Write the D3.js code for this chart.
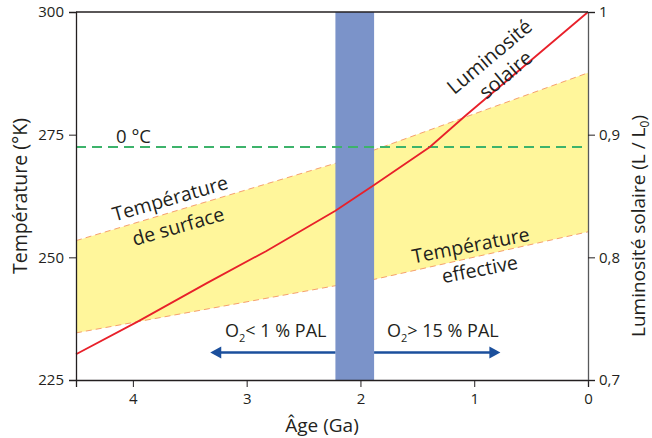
<!DOCTYPE html>
<html>
<head>
<meta charset="utf-8">
<script src="https://cdn.jsdelivr.net/npm/d3@7"></script>
<style>
  body { margin: 0; background: #fff; }
  svg text { font-family: "Open Sans", sans-serif; fill: #231f20; }
</style>
</head>
<body>
<svg id="chart" width="652" height="438"></svg>
<script>
// data
const ageTicks = [4, 3, 2, 1, 0];
const tempTicks = [225, 250, 275, 300];
const lumTicks = [0.7, 0.8, 0.9, 1];
const lumTickLabels = ["0,7", "0,8", "0,9", "1"];

// surface / effective temperature envelope (K)
const bandAges = [4.5, 2.2, 1.9, 0];
const surfaceTemp = [253.4, 269.3, 271.7, 287.6];
const effectiveTemp = [234.6, 244.3, 245.4, 255.2];

// solar luminosity (L / L0)
const lumAges = [4.5, 3.95, 3.35, 2.83, 2.22, 1.88, 1.39, 1.07, 0];
const lumValues = [0.721, 0.748, 0.779, 0.805, 0.838, 0.859, 0.890, 0.916, 1.0];

const freezeTemp = 272.5;
const goeStart = 2.22, goeEnd = 1.88;
const arrowTemp = 230.6;
const leftArrowTip = 3.32, rightArrowTip = 0.77;

const svg = d3.select("#chart");
const x = d3.scaleLinear().domain([4.5, 0]).range([76, 588]);
const yT = d3.scaleLinear().domain([225, 300]).range([380, 12]);
const yL = d3.scaleLinear().domain([0.7, 1]).range([380, 12]);

// yellow envelope
const env = bandAges.map((a, i) => ({ a, hi: surfaceTemp[i], lo: effectiveTemp[i] }));
svg.append("path")
    .datum(env)
    .attr("fill", "#fff69b")
    .attr("d", d3.area().x(d => x(d.a)).y0(d => yT(d.lo)).y1(d => yT(d.hi)));

[surfaceTemp, effectiveTemp].forEach(series => {
  svg.append("path")
      .datum(bandAges.map((a, i) => [a, series[i]]))
      .attr("fill", "none")
      .attr("stroke", "#f6a06e")
      .attr("stroke-width", 1)
      .attr("stroke-dasharray", "6,4")
      .attr("d", d3.line().x(d => x(d[0])).y(d => yT(d[1])));
});

// blue band
svg.append("rect")
    .attr("x", x(goeStart))
    .attr("y", yT(300))
    .attr("width", x(goeEnd) - x(goeStart))
    .attr("height", yT(225) - yT(300))
    .attr("fill", "#7b93c9");

// 0 °C
svg.append("line")
    .attr("x1", x(4.5)).attr("x2", x(0))
    .attr("y1", yT(freezeTemp)).attr("y2", yT(freezeTemp))
    .attr("stroke", "#3db36b")
    .attr("stroke-width", 2)
    .attr("stroke-dasharray", "10,6");

// luminosity curve
svg.append("path")
    .datum(lumAges.map((a, i) => [a, lumValues[i]]))
    .attr("fill", "none")
    .attr("stroke", "#e8202a")
    .attr("stroke-width", 1.8)
    .attr("d", d3.line().x(d => x(d[0])).y(d => yL(d[1])));

// frame top
svg.append("line")
    .attr("x1", x(4.5)).attr("x2", x(0))
    .attr("y1", yT(300)).attr("y2", yT(300))
    .attr("stroke", "#231f20").attr("stroke-width", 1.3);

// axes
const axL = svg.append("g").attr("transform", `translate(${x(4.5)},0)`)
    .call(d3.axisLeft(yT).tickValues(tempTicks).tickSize(7).tickPadding(5));
const axB = svg.append("g").attr("transform", `translate(0,${yT(225)})`)
    .call(d3.axisBottom(x).tickValues(ageTicks).tickFormat(d3.format("d")).tickSize(7).tickPadding(6));
const axR = svg.append("g").attr("transform", `translate(${x(0)},0)`)
    .call(d3.axisRight(yL).tickValues(lumTicks).tickFormat((d, i) => lumTickLabels[i]).tickSize(7).tickPadding(4));

[axL, axB, axR].forEach(g => {
  g.selectAll("text").style("font-size", "15px").attr("fill", "#231f20");
  g.select(".domain").attr("stroke-width", 1.3);
});
axL.selectAll("line, .domain").attr("stroke", "#231f20");
axB.selectAll("line, .domain").attr("stroke", "#231f20");
axR.selectAll("line, .domain").attr("stroke", "#58595b");
axR.selectAll(".tick line").attr("stroke", "#231f20");

// axis titles
svg.append("text")
    .attr("transform", `translate(27,${(yT(300) + yT(225)) / 2}) rotate(-90)`)
    .attr("text-anchor", "middle")
    .style("font-size", "19.5px")
    .text("Température (°K)");

svg.append("text")
    .attr("x", 322).attr("y", 432)
    .attr("text-anchor", "middle")
    .style("font-size", "19px")
    .text("Âge (Ga)");

const rt = svg.append("text")
    .attr("transform", `translate(645,226) rotate(-90)`)
    .attr("text-anchor", "middle")
    .style("font-size", "19px");
rt.append("tspan").text("Luminosité solaire (L / L");
rt.append("tspan").attr("dy", 4).style("font-size", "12px").text("0");
rt.append("tspan").attr("dy", -4).text(")");

// annotations
svg.append("text")
    .attr("x", 116).attr("y", 143)
    .style("font-size", "18.5px")
    .text("0 °C");

function rotLabel(cx, cy, angle, str, size) {
  svg.append("text")
      .attr("transform", `translate(${cx},${cy}) rotate(${angle})`)
      .attr("text-anchor", "middle")
      .style("font-size", size + "px")
      .text(str);
}
rotLabel(172, 205, -16, "Température", 19.5);
rotLabel(180, 233, -16, "de surface", 19.5);
rotLabel(472, 252, -11, "Température", 19.5);
rotLabel(481, 276, -11, "effective", 19.5);
rotLabel(494, 62, -40, "Luminosité", 20);
rotLabel(510, 80, -40, "solaire", 20);

// arrows
const ay = yT(arrowTemp);
const arrowColor = "#1b4f9c";
[[goeStart, leftArrowTip], [goeEnd, rightArrowTip]].forEach(([from, to]) => {
  const x0 = x(from), x1 = x(to);
  const dir = Math.sign(x1 - x0);
  svg.append("line")
      .attr("x1", x0).attr("x2", x1 - dir * 8)
      .attr("y1", ay).attr("y2", ay)
      .attr("stroke", arrowColor).attr("stroke-width", 2.6);
  svg.append("path")
      .attr("d", `M${x1},${ay} L${x1 - dir * 11},${ay - 6} L${x1 - dir * 11},${ay + 6} Z`)
      .attr("fill", arrowColor);
});

function o2Label(xPos, rest) {
  const t = svg.append("text").attr("x", xPos).attr("y", 337).style("font-size", "18px");
  t.append("tspan").text("O");
  t.append("tspan").attr("dy", 5).style("font-size", "11px").text("2");
  t.append("tspan").attr("dy", -5).text(rest);
}
o2Label(225, "< 1 % PAL");
o2Label(387, "> 15 % PAL");
</script>
</body>
</html>
